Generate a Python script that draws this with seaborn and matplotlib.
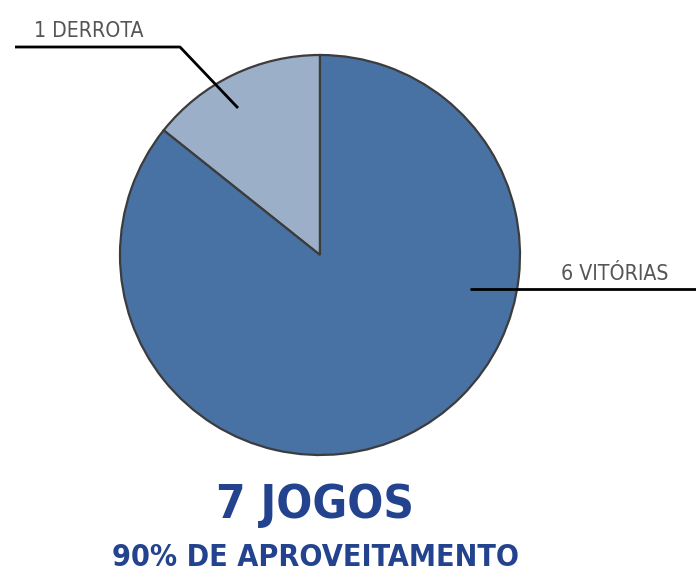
import numpy as np
import matplotlib
matplotlib.use("Agg")
import matplotlib.pyplot as plt
import seaborn as sns

# data
labels = ["1 DERROTA", "6 VITÓRIAS"]
values = [1, 6]
colors = ["#9bb0c8", "#4872a4"]
title = "7 JOGOS"
subtitle = "90% DE APROVEITAMENTO"

sns.set_theme(style="white")
plt.rcParams['font.family'] = ['DejaVu Sans']

W, H = 696, 574
fig = plt.figure(figsize=(W / 100, H / 100), dpi=100)
ax = fig.add_axes([0, 0, 1, 1])

cx, cy, r = 320, H - 255, 200
ax.pie(values, colors=colors, startangle=90, counterclock=True,
       center=(cx, cy), radius=r, frame=True,
       wedgeprops=dict(edgecolor="#3c3c3c", linewidth=1.6))
ax.set_xlim(0, W)
ax.set_ylim(0, H)
ax.set_aspect("auto")
ax.set_axis_off()

# leader lines
ax.plot([15, 180, 238], [H - 47, H - 47, H - 108], color="black", lw=2,
        solid_capstyle="butt")
ax.plot([470, 696], [H - 289, H - 289], color="black", lw=2,
        solid_capstyle="butt")

lab_color = "#555555"
ax.text(34, H - 37, labels[0], fontsize=15.2, color=lab_color, ha="left",
        va="baseline", fontstretch="condensed")
ax.text(561, H - 280, labels[1], fontsize=15.2, color=lab_color, ha="left",
        va="baseline", fontstretch="condensed")

blue = "#23438f"
ax.text(315, H - 518, title, fontsize=34, fontweight="bold", color=blue,
        ha="center", va="baseline", fontstretch="condensed")
ax.text(316, H - 566, subtitle, fontsize=21.8, fontweight="bold", color=blue,
        ha="center", va="baseline", fontstretch="condensed")

fig.savefig("out.png", dpi=100)
